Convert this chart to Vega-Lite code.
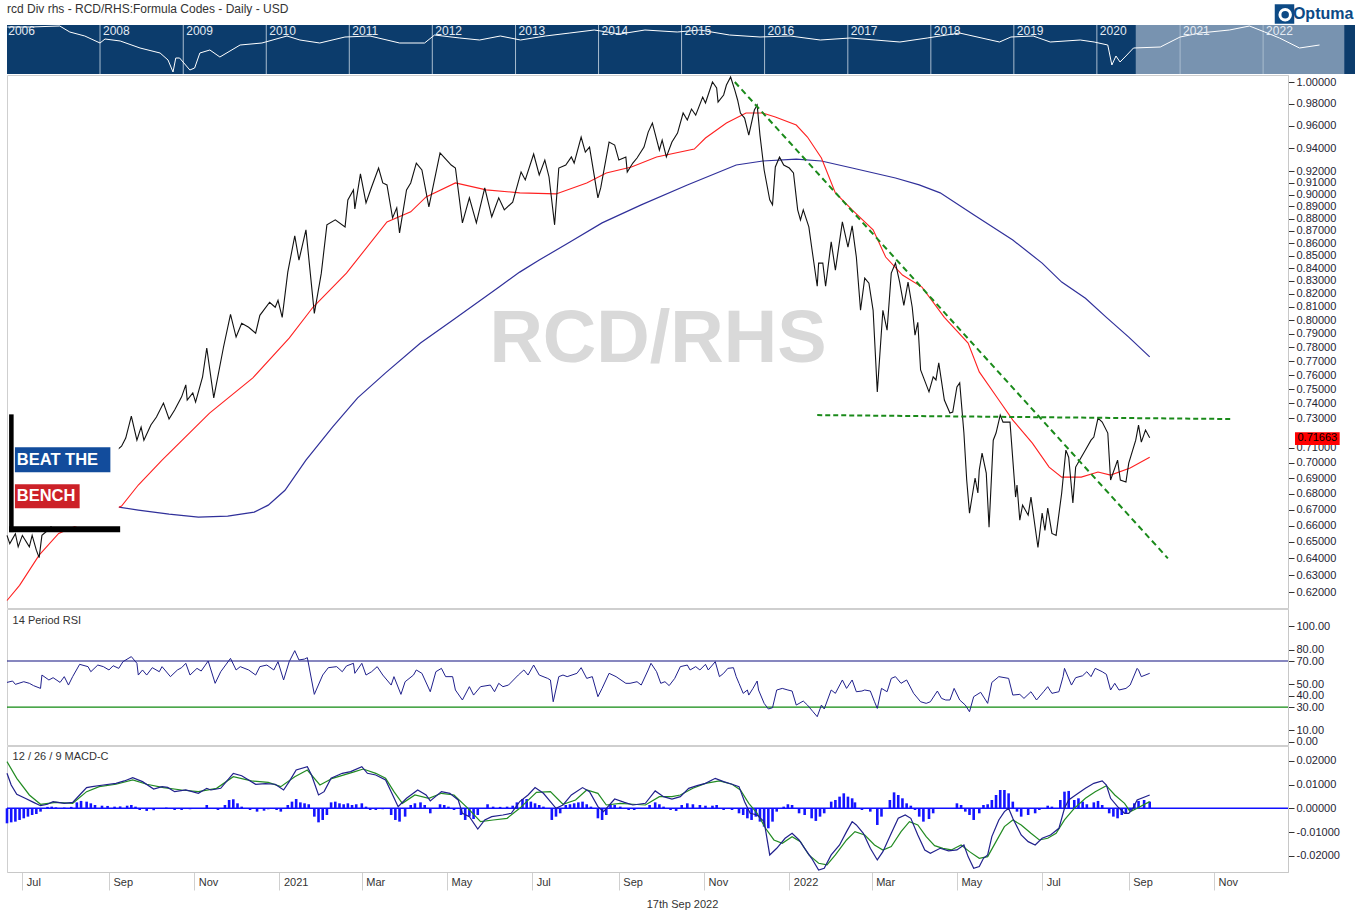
{
"$schema": "https://vega.github.io/schema/vega-lite/v6.json",
"background": "white",
"padding": {"left": 3, "top": 0, "right": 2, "bottom": 4},
"spacing": 1,
"bounds": "flush",
"config": {
  "font": "Liberation Sans",
  "view": {"stroke": "#cfcfcf"},
  "axis": {"labelFont": "Liberation Sans", "labelFontSize": 11, "labelColor": "#1f2533", "grid": false, "domainColor": "#c8c8c8", "tickColor": "#333333", "labelOverlap": false, "labelFlush": false}
},
"resolve": {"scale": {"x": "independent", "y": "independent"}},
"datasets": {
  "price": [
    {"date":"2020-06-20","v":0.654},{"date":"2020-06-22","v":0.649},{"date":"2020-06-26","v":0.655},{"date":"2020-06-28","v":0.647},{"date":"2020-07-01","v":0.654},{"date":"2020-07-06","v":0.647},{"date":"2020-07-08","v":0.654},{"date":"2020-07-11","v":0.645},{"date":"2020-07-13","v":0.6405},{"date":"2020-07-15","v":0.654},{"date":"2020-07-19","v":0.657},{"date":"2020-07-24","v":0.662},{"date":"2020-07-31","v":0.67},{"date":"2020-08-11","v":0.679},{"date":"2020-08-22","v":0.692},{"date":"2020-08-31","v":0.703},{"date":"2020-09-05","v":0.707},{"date":"2020-09-10","v":0.711},{"date":"2020-09-13","v":0.7164},{"date":"2020-09-17","v":0.7313},{"date":"2020-09-21","v":0.715},{"date":"2020-09-24","v":0.7238},{"date":"2020-09-26","v":0.715},{"date":"2020-10-01","v":0.7252},{"date":"2020-10-05","v":0.7307},{"date":"2020-10-10","v":0.7403},{"date":"2020-10-14","v":0.7293},{"date":"2020-10-18","v":0.7355},{"date":"2020-10-23","v":0.7446},{"date":"2020-10-26","v":0.753},{"date":"2020-10-27","v":0.7424},{"date":"2020-10-31","v":0.7474},{"date":"2020-11-02","v":0.741},{"date":"2020-11-07","v":0.7587},{"date":"2020-11-10","v":0.7795},{"date":"2020-11-15","v":0.7439},{"date":"2020-11-22","v":0.7802},{"date":"2020-11-27","v":0.8045},{"date":"2020-12-01","v":0.7875},{"date":"2020-12-05","v":0.7977},{"date":"2020-12-10","v":0.7948},{"date":"2020-12-15","v":0.7904},{"date":"2020-12-18","v":0.8037},{"date":"2020-12-25","v":0.8136},{"date":"2020-12-29","v":0.8098},{"date":"2020-12-31","v":0.8151},{"date":"2021-01-03","v":0.8022},{"date":"2021-01-07","v":0.8369},{"date":"2021-01-12","v":0.8658},{"date":"2021-01-15","v":0.8464},{"date":"2021-01-20","v":0.8707},{"date":"2021-01-26","v":0.8052},{"date":"2021-01-31","v":0.8361},{"date":"2021-02-04","v":0.8748},{"date":"2021-02-10","v":0.8789},{"date":"2021-02-17","v":0.8731},{"date":"2021-02-19","v":0.8955},{"date":"2021-02-23","v":0.9039},{"date":"2021-02-24","v":0.888},{"date":"2021-02-28","v":0.9175},{"date":"2021-03-04","v":0.893},{"date":"2021-03-08","v":0.9064},{"date":"2021-03-13","v":0.9226},{"date":"2021-03-16","v":0.9098},{"date":"2021-03-19","v":0.9081},{"date":"2021-03-23","v":0.8805},{"date":"2021-03-26","v":0.8888},{"date":"2021-03-28","v":0.8682},{"date":"2021-04-02","v":0.9039},{"date":"2021-04-05","v":0.9098},{"date":"2021-04-09","v":0.9269},{"date":"2021-04-13","v":0.9209},{"date":"2021-04-18","v":0.8897},{"date":"2021-04-26","v":0.9357},{"date":"2021-05-04","v":0.9252},{"date":"2021-05-07","v":0.9226},{"date":"2021-05-12","v":0.8764},{"date":"2021-05-17","v":0.8972},{"date":"2021-05-22","v":0.8764},{"date":"2021-05-28","v":0.9056},{"date":"2021-06-02","v":0.8814},{"date":"2021-06-07","v":0.8972},{"date":"2021-06-11","v":0.8872},{"date":"2021-06-17","v":0.8936},{"date":"2021-06-23","v":0.9192},{"date":"2021-06-26","v":0.9124},{"date":"2021-07-02","v":0.9348},{"date":"2021-07-06","v":0.9166},{"date":"2021-07-10","v":0.9295},{"date":"2021-07-13","v":0.9149},{"date":"2021-07-17","v":0.8748},{"date":"2021-07-20","v":0.9226},{"date":"2021-07-25","v":0.9252},{"date":"2021-07-29","v":0.9322},{"date":"2021-07-31","v":0.9269},{"date":"2021-08-05","v":0.9498},{"date":"2021-08-08","v":0.9365},{"date":"2021-08-11","v":0.9409},{"date":"2021-08-17","v":0.8972},{"date":"2021-08-19","v":0.9056},{"date":"2021-08-25","v":0.9453},{"date":"2021-08-29","v":0.9427},{"date":"2021-09-01","v":0.9295},{"date":"2021-09-06","v":0.9322},{"date":"2021-09-07","v":0.9192},{"date":"2021-09-11","v":0.9269},{"date":"2021-09-14","v":0.9313},{"date":"2021-09-19","v":0.9409},{"date":"2021-09-22","v":0.9542},{"date":"2021-09-25","v":0.9623},{"date":"2021-09-30","v":0.9383},{"date":"2021-10-02","v":0.9471},{"date":"2021-10-05","v":0.9322},{"date":"2021-10-09","v":0.9453},{"date":"2021-10-13","v":0.9533},{"date":"2021-10-17","v":0.9714},{"date":"2021-10-20","v":0.965},{"date":"2021-10-23","v":0.975},{"date":"2021-10-26","v":0.9695},{"date":"2021-10-31","v":0.986},{"date":"2021-11-02","v":0.9805},{"date":"2021-11-07","v":1.0},{"date":"2021-11-10","v":0.9944},{"date":"2021-11-11","v":0.9814},{"date":"2021-11-15","v":0.9879},{"date":"2021-11-17","v":0.9972},{"date":"2021-11-20","v":1.0047},{"date":"2021-11-23","v":0.9925},{"date":"2021-11-25","v":0.9833},{"date":"2021-11-27","v":0.9714},{"date":"2021-11-30","v":0.9668},{"date":"2021-12-03","v":0.9515},{"date":"2021-12-07","v":0.9741},{"date":"2021-12-09","v":0.9787},{"date":"2021-12-11","v":0.9515},{"date":"2021-12-14","v":0.9209},{"date":"2021-12-18","v":0.8955},{"date":"2021-12-20","v":0.8913},{"date":"2021-12-22","v":0.9235},{"date":"2021-12-25","v":0.9322},{"date":"2021-12-28","v":0.9252},{"date":"2022-01-01","v":0.9226},{"date":"2022-01-04","v":0.9183},{"date":"2022-01-07","v":0.8872},{"date":"2022-01-09","v":0.8789},{"date":"2022-01-11","v":0.8872},{"date":"2022-01-15","v":0.8731},{"date":"2022-01-17","v":0.8568},{"date":"2022-01-21","v":0.8259},{"date":"2022-01-22","v":0.844},{"date":"2022-01-25","v":0.844},{"date":"2022-01-27","v":0.8259},{"date":"2022-01-31","v":0.8609},{"date":"2022-02-03","v":0.8385},{"date":"2022-02-08","v":0.8772},{"date":"2022-02-12","v":0.8568},{"date":"2022-02-15","v":0.874},{"date":"2022-02-18","v":0.8488},{"date":"2022-02-21","v":0.8075},{"date":"2022-02-24","v":0.8322},{"date":"2022-02-27","v":0.8283},{"date":"2022-03-02","v":0.8075},{"date":"2022-03-05","v":0.7481},{"date":"2022-03-09","v":0.8075},{"date":"2022-03-12","v":0.7926},{"date":"2022-03-15","v":0.8361},{"date":"2022-03-18","v":0.844},{"date":"2022-03-21","v":0.8291},{"date":"2022-03-24","v":0.8113},{"date":"2022-03-27","v":0.8291},{"date":"2022-03-30","v":0.8098},{"date":"2022-04-01","v":0.7889},{"date":"2022-04-03","v":0.7985},{"date":"2022-04-05","v":0.7636},{"date":"2022-04-11","v":0.7481},{"date":"2022-04-14","v":0.7587},{"date":"2022-04-16","v":0.7565},{"date":"2022-04-18","v":0.7687},{"date":"2022-04-22","v":0.7424},{"date":"2022-04-26","v":0.7334},{"date":"2022-04-28","v":0.7341},{"date":"2022-05-01","v":0.7516},{"date":"2022-05-03","v":0.7544},{"date":"2022-05-06","v":0.7198},{"date":"2022-05-08","v":0.6888},{"date":"2022-05-10","v":0.6678},{"date":"2022-05-14","v":0.6901},{"date":"2022-05-16","v":0.6805},{"date":"2022-05-17","v":0.6953},{"date":"2022-05-19","v":0.7064},{"date":"2022-05-22","v":0.6933},{"date":"2022-05-24","v":0.659},{"date":"2022-05-27","v":0.715},{"date":"2022-05-29","v":0.7198},{"date":"2022-06-01","v":0.732},{"date":"2022-06-03","v":0.7272},{"date":"2022-06-08","v":0.7272},{"date":"2022-06-12","v":0.6779},{"date":"2022-06-13","v":0.6856},{"date":"2022-06-15","v":0.6634},{"date":"2022-06-17","v":0.6728},{"date":"2022-06-21","v":0.6665},{"date":"2022-06-23","v":0.6779},{"date":"2022-06-24","v":0.6716},{"date":"2022-06-28","v":0.6466},{"date":"2022-07-01","v":0.6678},{"date":"2022-07-03","v":0.6571},{"date":"2022-07-05","v":0.6709},{"date":"2022-07-08","v":0.6552},{"date":"2022-07-11","v":0.654},{"date":"2022-07-15","v":0.6805},{"date":"2022-07-18","v":0.7084},{"date":"2022-07-20","v":0.7037},{"date":"2022-07-23","v":0.6741},{"date":"2022-07-25","v":0.6972},{"date":"2022-07-29","v":0.7037},{"date":"2022-08-01","v":0.7084},{"date":"2022-08-05","v":0.715},{"date":"2022-08-07","v":0.7171},{"date":"2022-08-10","v":0.73},{"date":"2022-08-13","v":0.7272},{"date":"2022-08-17","v":0.7198},{"date":"2022-08-19","v":0.6888},{"date":"2022-08-24","v":0.7018},{"date":"2022-08-26","v":0.6888},{"date":"2022-08-30","v":0.6875},{"date":"2022-09-01","v":0.6998},{"date":"2022-09-06","v":0.715},{"date":"2022-09-08","v":0.7252},{"date":"2022-09-10","v":0.7137},{"date":"2022-09-13","v":0.7218},{"date":"2022-09-16","v":0.71663}
  ],
  "ma_red": [
    {"date":"2020-06-20","v":0.6153},{"date":"2020-06-29","v":0.6241},{"date":"2020-07-13","v":0.642},{"date":"2020-07-27","v":0.6552},{"date":"2020-09-10","v":0.6722},{"date":"2020-09-22","v":0.6856},{"date":"2020-10-09","v":0.7018},{"date":"2020-11-12","v":0.7334},{"date":"2020-12-13","v":0.758},{"date":"2021-01-08","v":0.7867},{"date":"2021-01-25","v":0.8098},{"date":"2021-02-18","v":0.8361},{"date":"2021-03-19","v":0.8772},{"date":"2021-04-05","v":0.8855},{"date":"2021-04-16","v":0.898},{"date":"2021-05-07","v":0.9098},{"date":"2021-05-29","v":0.9039},{"date":"2021-06-22","v":0.9014},{"date":"2021-07-18","v":0.9005},{"date":"2021-08-09","v":0.9098},{"date":"2021-08-23","v":0.9183},{"date":"2021-09-10","v":0.9235},{"date":"2021-09-28","v":0.9322},{"date":"2021-10-25","v":0.9391},{"date":"2021-11-02","v":0.9489},{"date":"2021-11-17","v":0.9623},{"date":"2021-12-01","v":0.9714},{"date":"2021-12-13","v":0.9714},{"date":"2021-12-22","v":0.9677},{"date":"2022-01-06","v":0.9605},{"date":"2022-01-14","v":0.9498},{"date":"2022-01-24","v":0.9313},{"date":"2022-02-03","v":0.9014},{"date":"2022-02-15","v":0.8872},{"date":"2022-03-02","v":0.8707},{"date":"2022-03-11","v":0.8488},{"date":"2022-03-23","v":0.8346},{"date":"2022-04-06","v":0.8252},{"date":"2022-04-22","v":0.8022},{"date":"2022-05-09","v":0.7831},{"date":"2022-05-17","v":0.7622},{"date":"2022-05-31","v":0.7424},{"date":"2022-06-10","v":0.7286},{"date":"2022-06-24","v":0.713},{"date":"2022-07-06","v":0.6972},{"date":"2022-07-15","v":0.6907},{"date":"2022-07-29","v":0.6907},{"date":"2022-08-10","v":0.694},{"date":"2022-08-19","v":0.692},{"date":"2022-09-02","v":0.6966},{"date":"2022-09-16","v":0.7037}
  ],
  "ma_blue": [
    {"date":"2020-09-08","v":0.6716},{"date":"2020-09-22","v":0.6697},{"date":"2020-10-14","v":0.6671},{"date":"2020-11-04","v":0.6653},{"date":"2020-11-25","v":0.6659},{"date":"2020-12-14","v":0.6684},{"date":"2020-12-24","v":0.6728},{"date":"2021-01-05","v":0.6822},{"date":"2021-01-20","v":0.7018},{"date":"2021-02-08","v":0.7238},{"date":"2021-02-26","v":0.7439},{"date":"2021-03-18","v":0.7615},{"date":"2021-04-12","v":0.7831},{"date":"2021-05-05","v":0.8},{"date":"2021-06-07","v":0.8252},{"date":"2021-06-22","v":0.8369},{"date":"2021-07-06","v":0.8464},{"date":"2021-07-28","v":0.8609},{"date":"2021-08-20","v":0.8764},{"date":"2021-09-17","v":0.8913},{"date":"2021-10-20","v":0.9081},{"date":"2021-11-24","v":0.9252},{"date":"2021-12-13","v":0.9287},{"date":"2022-01-06","v":0.9304},{"date":"2022-01-24","v":0.9287},{"date":"2022-02-15","v":0.9226},{"date":"2022-03-18","v":0.914},{"date":"2022-04-04","v":0.9081},{"date":"2022-04-19","v":0.9014},{"date":"2022-05-13","v":0.883},{"date":"2022-06-10","v":0.8624},{"date":"2022-07-01","v":0.844},{"date":"2022-07-15","v":0.8291},{"date":"2022-08-01","v":0.8167},{"date":"2022-08-16","v":0.8022},{"date":"2022-09-01","v":0.7875},{"date":"2022-09-16","v":0.773}
  ],
  "rsi": [
    {"date":"2020-06-20","v":51.4},{"date":"2020-06-24","v":52.6},{"date":"2020-06-26","v":49.7},{"date":"2020-07-02","v":52.0},{"date":"2020-07-06","v":50.6},{"date":"2020-07-09","v":48.6},{"date":"2020-07-14","v":46.2},{"date":"2020-07-15","v":57.8},{"date":"2020-07-20","v":53.5},{"date":"2020-07-23","v":55.5},{"date":"2020-07-28","v":51.4},{"date":"2020-07-31","v":56.4},{"date":"2020-08-03","v":49.1},{"date":"2020-08-06","v":56.4},{"date":"2020-08-11","v":67.1},{"date":"2020-08-17","v":65.1},{"date":"2020-08-19","v":60.7},{"date":"2020-08-24","v":66.5},{"date":"2020-08-28","v":65.1},{"date":"2020-09-01","v":62.2},{"date":"2020-09-04","v":65.9},{"date":"2020-09-08","v":63.6},{"date":"2020-09-11","v":69.4},{"date":"2020-09-17","v":73.8},{"date":"2020-09-21","v":68.0},{"date":"2020-09-22","v":57.8},{"date":"2020-09-25","v":62.2},{"date":"2020-09-28","v":57.8},{"date":"2020-10-02","v":64.2},{"date":"2020-10-07","v":60.7},{"date":"2020-10-09","v":65.1},{"date":"2020-10-15","v":56.4},{"date":"2020-10-20","v":62.2},{"date":"2020-10-23","v":64.2},{"date":"2020-10-26","v":68.0},{"date":"2020-10-29","v":57.8},{"date":"2020-11-03","v":63.6},{"date":"2020-11-06","v":61.3},{"date":"2020-11-09","v":66.5},{"date":"2020-11-11","v":70.0},{"date":"2020-11-16","v":50.6},{"date":"2020-11-20","v":60.7},{"date":"2020-11-27","v":72.3},{"date":"2020-12-01","v":62.2},{"date":"2020-12-04","v":65.1},{"date":"2020-12-10","v":62.2},{"date":"2020-12-15","v":57.8},{"date":"2020-12-18","v":65.1},{"date":"2020-12-23","v":66.5},{"date":"2020-12-28","v":62.2},{"date":"2020-12-31","v":69.4},{"date":"2021-01-04","v":53.5},{"date":"2021-01-08","v":69.4},{"date":"2021-01-12","v":79.0},{"date":"2021-01-15","v":70.9},{"date":"2021-01-19","v":71.7},{"date":"2021-01-21","v":72.9},{"date":"2021-01-22","v":66.5},{"date":"2021-01-26","v":41.0},{"date":"2021-02-01","v":57.8},{"date":"2021-02-05","v":64.2},{"date":"2021-02-11","v":65.1},{"date":"2021-02-15","v":60.7},{"date":"2021-02-18","v":65.7},{"date":"2021-02-23","v":68.0},{"date":"2021-02-24","v":59.3},{"date":"2021-03-01","v":68.0},{"date":"2021-03-04","v":57.8},{"date":"2021-03-08","v":60.7},{"date":"2021-03-12","v":65.1},{"date":"2021-03-16","v":57.8},{"date":"2021-03-22","v":49.1},{"date":"2021-03-24","v":56.4},{"date":"2021-03-29","v":41.0},{"date":"2021-04-01","v":52.0},{"date":"2021-04-07","v":57.8},{"date":"2021-04-09","v":62.2},{"date":"2021-04-13","v":59.3},{"date":"2021-04-19","v":43.3},{"date":"2021-04-23","v":60.7},{"date":"2021-04-27","v":63.6},{"date":"2021-04-30","v":56.4},{"date":"2021-05-05","v":56.4},{"date":"2021-05-07","v":44.8},{"date":"2021-05-12","v":36.1},{"date":"2021-05-17","v":47.7},{"date":"2021-05-20","v":40.4},{"date":"2021-05-25","v":47.7},{"date":"2021-06-01","v":49.1},{"date":"2021-06-04","v":43.3},{"date":"2021-06-07","v":50.6},{"date":"2021-06-10","v":47.7},{"date":"2021-06-14","v":49.1},{"date":"2021-06-21","v":57.8},{"date":"2021-06-25","v":62.2},{"date":"2021-06-28","v":57.8},{"date":"2021-07-02","v":66.5},{"date":"2021-07-06","v":57.8},{"date":"2021-07-12","v":54.9},{"date":"2021-07-14","v":53.5},{"date":"2021-07-16","v":34.6},{"date":"2021-07-20","v":56.4},{"date":"2021-07-23","v":57.8},{"date":"2021-07-26","v":56.4},{"date":"2021-08-02","v":59.3},{"date":"2021-08-05","v":64.2},{"date":"2021-08-09","v":54.9},{"date":"2021-08-13","v":56.4},{"date":"2021-08-17","v":39.0},{"date":"2021-08-20","v":46.2},{"date":"2021-08-25","v":59.3},{"date":"2021-08-30","v":56.4},{"date":"2021-09-06","v":50.6},{"date":"2021-09-09","v":50.6},{"date":"2021-09-14","v":52.0},{"date":"2021-09-17","v":49.1},{"date":"2021-09-22","v":62.2},{"date":"2021-09-24","v":68.0},{"date":"2021-09-28","v":60.7},{"date":"2021-10-01","v":50.6},{"date":"2021-10-04","v":52.0},{"date":"2021-10-07","v":48.6},{"date":"2021-10-11","v":54.9},{"date":"2021-10-15","v":65.1},{"date":"2021-10-20","v":66.5},{"date":"2021-10-22","v":62.2},{"date":"2021-10-26","v":65.1},{"date":"2021-10-29","v":62.2},{"date":"2021-11-02","v":67.1},{"date":"2021-11-04","v":62.2},{"date":"2021-11-09","v":69.4},{"date":"2021-11-12","v":56.4},{"date":"2021-11-15","v":59.3},{"date":"2021-11-18","v":63.6},{"date":"2021-11-22","v":64.2},{"date":"2021-11-24","v":56.4},{"date":"2021-11-26","v":50.6},{"date":"2021-11-29","v":41.9},{"date":"2021-12-02","v":44.8},{"date":"2021-12-03","v":40.4},{"date":"2021-12-06","v":46.2},{"date":"2021-12-09","v":52.6},{"date":"2021-12-10","v":44.8},{"date":"2021-12-14","v":33.2},{"date":"2021-12-17","v":28.3},{"date":"2021-12-20","v":29.4},{"date":"2021-12-23","v":44.8},{"date":"2021-12-27","v":46.2},{"date":"2021-12-31","v":44.8},{"date":"2022-01-03","v":43.9},{"date":"2022-01-06","v":31.7},{"date":"2022-01-11","v":35.2},{"date":"2022-01-14","v":31.7},{"date":"2022-01-18","v":25.9},{"date":"2022-01-21","v":21.6},{"date":"2022-01-24","v":31.7},{"date":"2022-01-26","v":28.3},{"date":"2022-01-31","v":44.8},{"date":"2022-02-03","v":41.9},{"date":"2022-02-08","v":53.5},{"date":"2022-02-11","v":46.2},{"date":"2022-02-15","v":53.5},{"date":"2022-02-18","v":43.3},{"date":"2022-02-22","v":43.9},{"date":"2022-02-24","v":44.8},{"date":"2022-02-28","v":43.9},{"date":"2022-03-03","v":34.6},{"date":"2022-03-05","v":28.8},{"date":"2022-03-08","v":46.2},{"date":"2022-03-12","v":43.3},{"date":"2022-03-15","v":54.9},{"date":"2022-03-18","v":56.4},{"date":"2022-03-22","v":50.6},{"date":"2022-03-26","v":53.5},{"date":"2022-03-31","v":41.9},{"date":"2022-04-05","v":34.6},{"date":"2022-04-09","v":33.2},{"date":"2022-04-12","v":34.6},{"date":"2022-04-17","v":43.9},{"date":"2022-04-20","v":37.5},{"date":"2022-04-23","v":36.1},{"date":"2022-04-26","v":36.1},{"date":"2022-04-29","v":46.2},{"date":"2022-05-03","v":36.1},{"date":"2022-05-07","v":31.7},{"date":"2022-05-10","v":25.9},{"date":"2022-05-13","v":39.0},{"date":"2022-05-18","v":42.8},{"date":"2022-05-23","v":33.2},{"date":"2022-05-26","v":51.4},{"date":"2022-05-31","v":56.4},{"date":"2022-06-07","v":54.9},{"date":"2022-06-10","v":40.4},{"date":"2022-06-15","v":41.0},{"date":"2022-06-18","v":37.5},{"date":"2022-06-23","v":43.3},{"date":"2022-06-27","v":36.1},{"date":"2022-07-02","v":43.3},{"date":"2022-07-05","v":47.7},{"date":"2022-07-08","v":41.9},{"date":"2022-07-13","v":43.3},{"date":"2022-07-16","v":56.4},{"date":"2022-07-17","v":63.6},{"date":"2022-07-22","v":49.1},{"date":"2022-07-25","v":55.5},{"date":"2022-07-30","v":57.2},{"date":"2022-08-02","v":60.7},{"date":"2022-08-05","v":56.4},{"date":"2022-08-08","v":63.6},{"date":"2022-08-13","v":60.7},{"date":"2022-08-16","v":58.4},{"date":"2022-08-19","v":44.8},{"date":"2022-08-22","v":50.6},{"date":"2022-08-25","v":44.8},{"date":"2022-08-30","v":46.2},{"date":"2022-09-02","v":49.1},{"date":"2022-09-07","v":63.6},{"date":"2022-09-08","v":62.2},{"date":"2022-09-10","v":56.4},{"date":"2022-09-16","v":59.3}
  ],
  "macd": [
    {"date":"2020-06-20","v":0.0147},{"date":"2020-06-23","v":0.0098},{"date":"2020-06-27","v":0.0059},{"date":"2020-07-03","v":0.0042},{"date":"2020-07-09","v":0.0025},{"date":"2020-07-14","v":0.0011},{"date":"2020-07-19","v":0.0017},{"date":"2020-07-23","v":0.0028},{"date":"2020-07-31","v":0.0021},{"date":"2020-08-06","v":0.0025},{"date":"2020-08-11","v":0.0056},{"date":"2020-08-16","v":0.0087},{"date":"2020-08-20","v":0.0091},{"date":"2020-08-28","v":0.0098},{"date":"2020-09-06","v":0.0105},{"date":"2020-09-12","v":0.0115},{"date":"2020-09-18","v":0.0129},{"date":"2020-09-25","v":0.0112},{"date":"2020-10-03","v":0.0081},{"date":"2020-10-09","v":0.0091},{"date":"2020-10-13","v":0.0088},{"date":"2020-10-18","v":0.007},{"date":"2020-10-26","v":0.0077},{"date":"2020-11-04","v":0.0063},{"date":"2020-11-10","v":0.0084},{"date":"2020-11-13","v":0.0077},{"date":"2020-11-20","v":0.0084},{"date":"2020-11-24","v":0.0112},{"date":"2020-11-29","v":0.0147},{"date":"2020-12-05","v":0.0137},{"date":"2020-12-15","v":0.0101},{"date":"2020-12-22","v":0.0104},{"date":"2020-12-29","v":0.0101},{"date":"2021-01-04","v":0.0077},{"date":"2021-01-08","v":0.0112},{"date":"2021-01-13","v":0.0161},{"date":"2021-01-21","v":0.0175},{"date":"2021-01-24","v":0.014},{"date":"2021-01-29","v":0.0056},{"date":"2021-02-02","v":0.007},{"date":"2021-02-07","v":0.0126},{"date":"2021-02-15","v":0.0147},{"date":"2021-02-21","v":0.0154},{"date":"2021-03-01","v":0.0175},{"date":"2021-03-05","v":0.0147},{"date":"2021-03-11","v":0.014},{"date":"2021-03-18","v":0.0119},{"date":"2021-03-22","v":0.007},{"date":"2021-03-27","v":0.0007},{"date":"2021-04-02","v":0.0042},{"date":"2021-04-10","v":0.0077},{"date":"2021-04-16","v":0.0056},{"date":"2021-04-19","v":0.0031},{"date":"2021-04-27","v":0.007},{"date":"2021-05-03","v":0.0063},{"date":"2021-05-09","v":0.0035},{"date":"2021-05-12","v":-0.0021},{"date":"2021-05-17","v":-0.0035},{"date":"2021-05-23","v":-0.0087},{"date":"2021-05-28","v":-0.0049},{"date":"2021-06-02","v":-0.0035},{"date":"2021-06-10","v":-0.0028},{"date":"2021-06-16","v":-0.0021},{"date":"2021-06-22","v":0.0028},{"date":"2021-06-28","v":0.0056},{"date":"2021-07-03","v":0.0087},{"date":"2021-07-09","v":0.0063},{"date":"2021-07-14","v":0.0028},{"date":"2021-07-18","v":0.0},{"date":"2021-07-23","v":0.0014},{"date":"2021-07-29","v":0.0056},{"date":"2021-08-06","v":0.0087},{"date":"2021-08-11","v":0.007},{"date":"2021-08-17","v":0.0007},{"date":"2021-08-21","v":-0.0014},{"date":"2021-08-29","v":0.0039},{"date":"2021-09-05","v":0.0025},{"date":"2021-09-11","v":0.0014},{"date":"2021-09-20","v":0.0021},{"date":"2021-09-27","v":0.0073},{"date":"2021-10-03","v":0.0049},{"date":"2021-10-09","v":0.0039},{"date":"2021-10-15","v":0.0049},{"date":"2021-10-21","v":0.0084},{"date":"2021-10-27","v":0.0095},{"date":"2021-11-02","v":0.0105},{"date":"2021-11-09","v":0.0126},{"date":"2021-11-15","v":0.0112},{"date":"2021-11-21","v":0.0101},{"date":"2021-11-26","v":0.0091},{"date":"2021-11-30","v":0.0028},{"date":"2021-12-04","v":-0.0021},{"date":"2021-12-09","v":-0.0028},{"date":"2021-12-14","v":-0.0056},{"date":"2021-12-18","v":-0.0196},{"date":"2021-12-23","v":-0.0168},{"date":"2021-12-29","v":-0.0126},{"date":"2022-01-03","v":-0.0105},{"date":"2022-01-08","v":-0.0133},{"date":"2022-01-12","v":-0.0168},{"date":"2022-01-17","v":-0.021},{"date":"2022-01-22","v":-0.0259},{"date":"2022-01-26","v":-0.0252},{"date":"2022-01-31","v":-0.0196},{"date":"2022-02-06","v":-0.0154},{"date":"2022-02-11","v":-0.0098},{"date":"2022-02-15","v":-0.0056},{"date":"2022-02-18","v":-0.007},{"date":"2022-02-23","v":-0.0105},{"date":"2022-02-28","v":-0.0168},{"date":"2022-03-05","v":-0.0217},{"date":"2022-03-09","v":-0.0182},{"date":"2022-03-15","v":-0.0105},{"date":"2022-03-20","v":-0.0042},{"date":"2022-03-25","v":-0.0028},{"date":"2022-03-29","v":-0.0042},{"date":"2022-04-03","v":-0.0112},{"date":"2022-04-08","v":-0.0175},{"date":"2022-04-12","v":-0.0189},{"date":"2022-04-19","v":-0.0168},{"date":"2022-04-25","v":-0.0179},{"date":"2022-05-01","v":-0.0175},{"date":"2022-05-06","v":-0.0154},{"date":"2022-05-09","v":-0.0203},{"date":"2022-05-13","v":-0.0252},{"date":"2022-05-17","v":-0.0245},{"date":"2022-05-20","v":-0.021},{"date":"2022-05-23","v":-0.0196},{"date":"2022-05-26","v":-0.0119},{"date":"2022-05-31","v":-0.0049},{"date":"2022-06-04","v":-0.0014},{"date":"2022-06-07","v":0.0},{"date":"2022-06-10","v":-0.0042},{"date":"2022-06-16","v":-0.0112},{"date":"2022-06-21","v":-0.014},{"date":"2022-06-26","v":-0.0154},{"date":"2022-07-01","v":-0.0126},{"date":"2022-07-07","v":-0.0112},{"date":"2022-07-13","v":-0.0084},{"date":"2022-07-17","v":0.0},{"date":"2022-07-20","v":0.0035},{"date":"2022-07-25","v":0.0056},{"date":"2022-08-01","v":0.0084},{"date":"2022-08-07","v":0.0105},{"date":"2022-08-13","v":0.0115},{"date":"2022-08-16","v":0.0098},{"date":"2022-08-19","v":0.0042},{"date":"2022-08-24","v":0.0007},{"date":"2022-08-29","v":-0.0021},{"date":"2022-09-01","v":-0.0021},{"date":"2022-09-04","v":0.0},{"date":"2022-09-07","v":0.0035},{"date":"2022-09-16","v":0.0056}
  ],
  "signal": [
    {"date":"2020-06-20","v":0.0196},{"date":"2020-06-27","v":0.0126},{"date":"2020-07-06","v":0.0056},{"date":"2020-07-14","v":0.0017},{"date":"2020-07-25","v":0.0025},{"date":"2020-08-06","v":0.0021},{"date":"2020-08-16","v":0.007},{"date":"2020-08-25","v":0.0091},{"date":"2020-09-06","v":0.0101},{"date":"2020-09-18","v":0.0119},{"date":"2020-09-28","v":0.0101},{"date":"2020-10-10","v":0.0087},{"date":"2020-10-23","v":0.0077},{"date":"2020-11-04","v":0.007},{"date":"2020-11-17","v":0.0084},{"date":"2020-11-29","v":0.0133},{"date":"2020-12-12","v":0.0115},{"date":"2020-12-24","v":0.0109},{"date":"2021-01-02","v":0.0091},{"date":"2021-01-12","v":0.0133},{"date":"2021-01-21","v":0.0161},{"date":"2021-01-30","v":0.0098},{"date":"2021-02-08","v":0.0126},{"date":"2021-02-24","v":0.0154},{"date":"2021-03-02","v":0.0165},{"date":"2021-03-11","v":0.0147},{"date":"2021-03-18","v":0.0126},{"date":"2021-03-24","v":0.007},{"date":"2021-03-30","v":0.0021},{"date":"2021-04-08","v":0.0056},{"date":"2021-04-18","v":0.0042},{"date":"2021-04-27","v":0.0063},{"date":"2021-05-06","v":0.0056},{"date":"2021-05-16","v":0.0},{"date":"2021-05-25","v":-0.0056},{"date":"2021-06-03","v":-0.0049},{"date":"2021-06-13","v":-0.0042},{"date":"2021-06-22","v":0.0},{"date":"2021-07-04","v":0.0067},{"date":"2021-07-14","v":0.007},{"date":"2021-07-23","v":0.0017},{"date":"2021-08-01","v":0.0035},{"date":"2021-08-09","v":0.0077},{"date":"2021-08-17","v":0.0063},{"date":"2021-08-23","v":0.0014},{"date":"2021-09-02","v":0.0021},{"date":"2021-09-11","v":0.0017},{"date":"2021-09-20","v":0.0014},{"date":"2021-09-30","v":0.0049},{"date":"2021-10-09","v":0.0049},{"date":"2021-10-15","v":0.0056},{"date":"2021-10-24","v":0.0084},{"date":"2021-11-02","v":0.0105},{"date":"2021-11-12","v":0.0115},{"date":"2021-11-21","v":0.0101},{"date":"2021-11-27","v":0.0077},{"date":"2021-12-03","v":0.0021},{"date":"2021-12-09","v":-0.0021},{"date":"2021-12-15","v":-0.0084},{"date":"2021-12-21","v":-0.0133},{"date":"2021-12-27","v":-0.0147},{"date":"2022-01-03","v":-0.0119},{"date":"2022-01-09","v":-0.014},{"date":"2022-01-15","v":-0.0196},{"date":"2022-01-22","v":-0.0231},{"date":"2022-01-28","v":-0.0238},{"date":"2022-02-03","v":-0.0196},{"date":"2022-02-11","v":-0.0133},{"date":"2022-02-17","v":-0.0098},{"date":"2022-02-24","v":-0.0112},{"date":"2022-03-03","v":-0.0154},{"date":"2022-03-09","v":-0.0175},{"date":"2022-03-15","v":-0.0161},{"date":"2022-03-22","v":-0.0098},{"date":"2022-03-28","v":-0.0056},{"date":"2022-04-03","v":-0.007},{"date":"2022-04-09","v":-0.0119},{"date":"2022-04-15","v":-0.0157},{"date":"2022-04-21","v":-0.0168},{"date":"2022-04-27","v":-0.0175},{"date":"2022-05-04","v":-0.0154},{"date":"2022-05-10","v":-0.0182},{"date":"2022-05-17","v":-0.021},{"date":"2022-05-23","v":-0.0203},{"date":"2022-05-29","v":-0.014},{"date":"2022-06-04","v":-0.0077},{"date":"2022-06-10","v":-0.0049},{"date":"2022-06-16","v":-0.007},{"date":"2022-06-23","v":-0.0105},{"date":"2022-06-29","v":-0.0133},{"date":"2022-07-05","v":-0.0126},{"date":"2022-07-11","v":-0.0105},{"date":"2022-07-17","v":-0.0049},{"date":"2022-07-24","v":0.0},{"date":"2022-08-01","v":0.0042},{"date":"2022-08-08","v":0.007},{"date":"2022-08-16","v":0.0095},{"date":"2022-08-22","v":0.0056},{"date":"2022-08-29","v":0.0021},{"date":"2022-09-02","v":-0.0014},{"date":"2022-09-07","v":0.0},{"date":"2022-09-16","v":0.0028}
  ],
  "hist": [
    {"date":"2020-06-20","v":-0.0063},{"date":"2020-06-23","v":-0.0059},{"date":"2020-06-26","v":-0.0056},{"date":"2020-06-29","v":-0.0049},{"date":"2020-07-02","v":-0.0042},{"date":"2020-07-05","v":-0.0035},{"date":"2020-07-08","v":-0.0028},{"date":"2020-07-11","v":-0.0024},{"date":"2020-07-14","v":-0.0014},{"date":"2020-07-19","v":0.0006},{"date":"2020-07-22","v":0.0007},{"date":"2020-07-25","v":0.0004},{"date":"2020-07-31","v":0.0003},{"date":"2020-08-05","v":0.0006},{"date":"2020-08-09","v":0.0025},{"date":"2020-08-12","v":0.0031},{"date":"2020-08-16","v":0.0028},{"date":"2020-08-19","v":0.0021},{"date":"2020-08-22","v":0.0014},{"date":"2020-08-27","v":0.0011},{"date":"2020-08-31","v":0.001},{"date":"2020-09-05","v":0.0007},{"date":"2020-09-09","v":0.0008},{"date":"2020-09-14","v":0.0011},{"date":"2020-09-17","v":0.0014},{"date":"2020-09-20","v":0.0007},{"date":"2020-09-23","v":-0.0007},{"date":"2020-09-28","v":-0.0011},{"date":"2020-10-03","v":-0.0008},{"date":"2020-10-12","v":0.0003},{"date":"2020-10-18","v":-0.0007},{"date":"2020-10-23","v":-0.0007},{"date":"2020-10-29","v":-0.0004},{"date":"2020-11-10","v":0.0014},{"date":"2020-11-18","v":-0.0007},{"date":"2020-11-23","v":0.0014},{"date":"2020-11-26","v":0.0035},{"date":"2020-11-29","v":0.0038},{"date":"2020-12-02","v":0.0021},{"date":"2020-12-05","v":0.0007},{"date":"2020-12-11","v":-0.0007},{"date":"2020-12-16","v":-0.0014},{"date":"2020-12-21","v":-0.001},{"date":"2020-12-24","v":-0.0004},{"date":"2020-12-30","v":-0.0007},{"date":"2021-01-02","v":-0.0014},{"date":"2021-01-07","v":0.0014},{"date":"2021-01-10","v":0.0028},{"date":"2021-01-13","v":0.0039},{"date":"2021-01-16","v":0.0025},{"date":"2021-01-19","v":0.0021},{"date":"2021-01-22","v":0.0017},{"date":"2021-01-26","v":-0.0035},{"date":"2021-01-29","v":-0.0059},{"date":"2021-02-01","v":-0.0049},{"date":"2021-02-04","v":-0.0028},{"date":"2021-02-07","v":0.0025},{"date":"2021-02-10","v":0.0028},{"date":"2021-02-13","v":0.0021},{"date":"2021-02-16","v":0.0017},{"date":"2021-02-19","v":0.0021},{"date":"2021-02-22","v":0.0014},{"date":"2021-02-25","v":0.0017},{"date":"2021-03-01","v":0.0021},{"date":"2021-03-04","v":0.0007},{"date":"2021-03-07","v":-0.0007},{"date":"2021-03-11","v":-0.0007},{"date":"2021-03-16","v":-0.0004},{"date":"2021-03-22","v":-0.0028},{"date":"2021-03-25","v":-0.0049},{"date":"2021-03-28","v":-0.0056},{"date":"2021-04-01","v":-0.0035},{"date":"2021-04-05","v":0.0014},{"date":"2021-04-08","v":0.0021},{"date":"2021-04-12","v":0.0025},{"date":"2021-04-15","v":0.0014},{"date":"2021-04-19","v":-0.0021},{"date":"2021-04-26","v":0.0017},{"date":"2021-04-29","v":0.0014},{"date":"2021-05-02","v":0.0007},{"date":"2021-05-06","v":-0.0007},{"date":"2021-05-11","v":-0.0028},{"date":"2021-05-14","v":-0.0049},{"date":"2021-05-17","v":-0.0035},{"date":"2021-05-20","v":-0.0045},{"date":"2021-05-23","v":-0.0028},{"date":"2021-05-30","v":0.0017},{"date":"2021-06-03","v":0.0007},{"date":"2021-06-08","v":0.0006},{"date":"2021-06-13","v":0.0007},{"date":"2021-06-17","v":0.0011},{"date":"2021-06-20","v":0.0025},{"date":"2021-06-24","v":0.0039},{"date":"2021-06-27","v":0.0039},{"date":"2021-06-30","v":0.0028},{"date":"2021-07-03","v":0.0021},{"date":"2021-07-06","v":0.0014},{"date":"2021-07-09","v":0.0007},{"date":"2021-07-15","v":-0.0049},{"date":"2021-07-18","v":-0.0035},{"date":"2021-07-21","v":-0.0021},{"date":"2021-07-25","v":0.0014},{"date":"2021-07-28","v":0.0017},{"date":"2021-07-31","v":0.0021},{"date":"2021-08-03","v":0.0025},{"date":"2021-08-06","v":0.0028},{"date":"2021-08-09","v":0.0017},{"date":"2021-08-12","v":0.0007},{"date":"2021-08-17","v":-0.0042},{"date":"2021-08-20","v":-0.0049},{"date":"2021-08-23","v":-0.0028},{"date":"2021-08-26","v":0.0017},{"date":"2021-08-29","v":0.0014},{"date":"2021-09-02","v":0.0007},{"date":"2021-09-08","v":-0.0007},{"date":"2021-09-12","v":-0.0007},{"date":"2021-09-17","v":-0.0003},{"date":"2021-09-23","v":0.0014},{"date":"2021-09-27","v":0.0025},{"date":"2021-09-30","v":0.0017},{"date":"2021-10-03","v":0.0007},{"date":"2021-10-08","v":-0.0007},{"date":"2021-10-12","v":-0.0011},{"date":"2021-10-16","v":0.0014},{"date":"2021-10-20","v":0.0021},{"date":"2021-10-24","v":0.0017},{"date":"2021-10-29","v":0.0014},{"date":"2021-11-02","v":0.0011},{"date":"2021-11-07","v":0.0011},{"date":"2021-11-10","v":0.0014},{"date":"2021-11-15","v":-0.0007},{"date":"2021-11-21","v":-0.0007},{"date":"2021-11-26","v":-0.0021},{"date":"2021-11-29","v":-0.0028},{"date":"2021-12-02","v":-0.0042},{"date":"2021-12-05","v":-0.0049},{"date":"2021-12-08","v":-0.0035},{"date":"2021-12-11","v":-0.0056},{"date":"2021-12-14","v":-0.0077},{"date":"2021-12-17","v":-0.0084},{"date":"2021-12-20","v":-0.0056},{"date":"2021-12-23","v":-0.0014},{"date":"2021-12-28","v":0.0007},{"date":"2021-12-31","v":0.0017},{"date":"2022-01-03","v":0.0014},{"date":"2022-01-08","v":-0.0021},{"date":"2022-01-12","v":-0.0028},{"date":"2022-01-17","v":-0.0042},{"date":"2022-01-20","v":-0.0053},{"date":"2022-01-23","v":-0.0035},{"date":"2022-01-26","v":-0.0021},{"date":"2022-01-31","v":0.0028},{"date":"2022-02-03","v":0.0035},{"date":"2022-02-06","v":0.0049},{"date":"2022-02-09","v":0.0063},{"date":"2022-02-12","v":0.0049},{"date":"2022-02-15","v":0.0042},{"date":"2022-02-17","v":0.0025},{"date":"2022-02-22","v":-0.0007},{"date":"2022-02-28","v":-0.0014},{"date":"2022-03-05","v":-0.007},{"date":"2022-03-08","v":-0.0035},{"date":"2022-03-14","v":0.0035},{"date":"2022-03-17","v":0.0067},{"date":"2022-03-20","v":0.0056},{"date":"2022-03-23","v":0.0042},{"date":"2022-03-26","v":0.0021},{"date":"2022-03-29","v":0.0011},{"date":"2022-04-01","v":-0.0007},{"date":"2022-04-04","v":-0.0035},{"date":"2022-04-07","v":-0.0056},{"date":"2022-04-11","v":-0.0045},{"date":"2022-04-14","v":-0.0021},{"date":"2022-04-26","v":-0.0003},{"date":"2022-05-01","v":0.0021},{"date":"2022-05-04","v":0.0014},{"date":"2022-05-07","v":-0.0014},{"date":"2022-05-10","v":-0.0028},{"date":"2022-05-13","v":-0.0049},{"date":"2022-05-17","v":-0.0021},{"date":"2022-05-20","v":0.0014},{"date":"2022-05-23","v":0.0017},{"date":"2022-05-26","v":0.0035},{"date":"2022-05-29","v":0.0056},{"date":"2022-06-01","v":0.0077},{"date":"2022-06-04","v":0.0077},{"date":"2022-06-07","v":0.0063},{"date":"2022-06-10","v":0.0028},{"date":"2022-06-13","v":-0.0014},{"date":"2022-06-16","v":-0.0035},{"date":"2022-06-21","v":-0.0028},{"date":"2022-06-26","v":-0.0021},{"date":"2022-06-29","v":-0.0007},{"date":"2022-07-05","v":0.0011},{"date":"2022-07-08","v":0.0007},{"date":"2022-07-14","v":0.0035},{"date":"2022-07-17","v":0.007},{"date":"2022-07-20","v":0.0073},{"date":"2022-07-24","v":0.0035},{"date":"2022-07-27","v":0.0042},{"date":"2022-07-30","v":0.0028},{"date":"2022-08-02","v":0.0017},{"date":"2022-08-07","v":0.0025},{"date":"2022-08-10","v":0.0031},{"date":"2022-08-13","v":0.0014},{"date":"2022-08-18","v":-0.0021},{"date":"2022-08-21","v":-0.0035},{"date":"2022-08-24","v":-0.0042},{"date":"2022-08-27","v":-0.0028},{"date":"2022-08-30","v":-0.0021},{"date":"2022-09-02","v":-0.0007},{"date":"2022-09-05","v":0.0021},{"date":"2022-09-08","v":0.0031},{"date":"2022-09-12","v":0.0035},{"date":"2022-09-16","v":0.0028}
  ],
  "nav": [
    {"date":"2006-11-20","v":0.985},{"date":"2007-02-27","v":0.985},{"date":"2007-07-08","v":1.0},{"date":"2007-08-21","v":0.91},{"date":"2007-10-26","v":0.85},{"date":"2008-01-01","v":0.745},{"date":"2008-01-23","v":0.805},{"date":"2008-03-30","v":0.775},{"date":"2008-06-25","v":0.67},{"date":"2008-09-21","v":0.595},{"date":"2008-10-26","v":0.49},{"date":"2008-11-17","v":0.31},{"date":"2008-11-29","v":0.52},{"date":"2008-12-16","v":0.52},{"date":"2009-01-30","v":0.34},{"date":"2009-02-20","v":0.37},{"date":"2009-03-15","v":0.595},{"date":"2009-04-28","v":0.64},{"date":"2009-06-11","v":0.535},{"date":"2009-09-08","v":0.715},{"date":"2009-12-13","v":0.745},{"date":"2010-04-02","v":0.85},{"date":"2010-05-29","v":0.79},{"date":"2010-08-24","v":0.745},{"date":"2010-12-13","v":0.835},{"date":"2011-04-02","v":0.85},{"date":"2011-08-10","v":0.745},{"date":"2011-11-28","v":0.745},{"date":"2012-01-11","v":0.865},{"date":"2012-05-01","v":0.82},{"date":"2012-07-27","v":0.79},{"date":"2012-10-26","v":0.85},{"date":"2013-01-23","v":0.79},{"date":"2013-05-12","v":0.85},{"date":"2013-08-28","v":0.895},{"date":"2013-12-13","v":0.94},{"date":"2014-04-05","v":0.88},{"date":"2014-07-24","v":0.94},{"date":"2014-12-13","v":0.91},{"date":"2015-03-22","v":0.94},{"date":"2015-07-31","v":0.865},{"date":"2015-12-12","v":0.835},{"date":"2016-04-22","v":0.85},{"date":"2016-09-02","v":0.79},{"date":"2017-01-11","v":0.82},{"date":"2017-05-01","v":0.79},{"date":"2017-08-18","v":0.76},{"date":"2017-12-16","v":0.82},{"date":"2018-05-07","v":0.895},{"date":"2018-10-30","v":0.76},{"date":"2018-12-19","v":0.835},{"date":"2019-03-27","v":0.85},{"date":"2019-06-10","v":0.76},{"date":"2019-10-20","v":0.79},{"date":"2019-12-20","v":0.76},{"date":"2020-02-18","v":0.715},{"date":"2020-03-07","v":0.415},{"date":"2020-03-25","v":0.55},{"date":"2020-04-12","v":0.46},{"date":"2020-05-12","v":0.565},{"date":"2020-06-10","v":0.67},{"date":"2020-10-06","v":0.685},{"date":"2021-01-01","v":0.835},{"date":"2021-03-29","v":0.895},{"date":"2021-08-06","v":0.94},{"date":"2021-11-02","v":1.0},{"date":"2022-01-08","v":0.91},{"date":"2022-03-14","v":0.82},{"date":"2022-06-10","v":0.67},{"date":"2022-09-06","v":0.715}
  ],
  "navgrid": [
    {"date":"2008-01-01","v":1.015,"v2":0.28,"label":"2008"},{"date":"2009-01-01","v":1.015,"v2":0.28,"label":"2009"},{"date":"2010-01-01","v":1.015,"v2":0.28,"label":"2010"},{"date":"2011-01-01","v":1.015,"v2":0.28,"label":"2011"},{"date":"2012-01-01","v":1.015,"v2":0.28,"label":"2012"},{"date":"2013-01-01","v":1.015,"v2":0.28,"label":"2013"},{"date":"2014-01-01","v":1.015,"v2":0.28,"label":"2014"},{"date":"2015-01-01","v":1.015,"v2":0.28,"label":"2015"},{"date":"2016-01-01","v":1.015,"v2":0.28,"label":"2016"},{"date":"2017-01-01","v":1.015,"v2":0.28,"label":"2017"},{"date":"2018-01-01","v":1.015,"v2":0.28,"label":"2018"},{"date":"2019-01-01","v":1.015,"v2":0.28,"label":"2019"},{"date":"2020-01-01","v":1.015,"v2":0.28,"label":"2020"},{"date":"2021-01-01","v":1.015,"v2":0.28,"label":"2021"},{"date":"2022-01-01","v":1.015,"v2":0.28,"label":"2022"}
  ]
},
"vconcat": [
  {
    "width": 1348, "height": 74,
    "view": {"stroke": null},
    "encoding": {
      "x": {"field": "date", "type": "temporal", "scale": {"domain": [{"year":2006,"month":11,"date":18},{"year":2023,"month":2,"date":9}]}, "axis": null},
      "y": {"field": "v", "type": "quantitative", "scale": {"domain": [0.28, 1.39], "nice": false, "zero": false}, "axis": null}
    },
    "layer": [
      {"data": {"values": [{"date":"2006-11-18","date2":"2023-02-09","v":1.015,"v2":0.28}]}, "mark": {"type": "rect", "color": "#0c3c6c"}, "encoding": {"x2": {"field": "date2"}, "y2": {"field": "v2"}}},
      {"data": {"values": [{"date":"2020-06-20","date2":"2022-12-24","v":1.015,"v2":0.28}]}, "mark": {"type": "rect", "color": "#7893b0"}, "encoding": {"x2": {"field": "date2"}, "y2": {"field": "v2"}}},
      {"data": {"name": "navgrid"}, "mark": {"type": "rule", "color": "#a9bccf", "strokeWidth": 1}, "encoding": {"y2": {"field": "v2"}}},
      {"data": {"name": "nav"}, "mark": {"type": "line", "color": "#ffffff", "strokeWidth": 1}},
      {"data": {"name": "navgrid"}, "mark": {"type": "text", "align": "left", "baseline": "middle", "dx": 3, "fontSize": 12, "color": "#e4ebf3"}, "encoding": {"y": {"datum": 0.925}, "text": {"field": "label"}}},
      {"data": {"values": [{"date":"2006-11-19","v":0.925,"label":"2006"}]}, "mark": {"type": "text", "align": "left", "baseline": "middle", "dx": 1, "fontSize": 12, "color": "#e4ebf3"}, "encoding": {"text": {"field": "label"}}},
      {"data": {"values": [{"date":"2006-11-18","v":1.255,"label":"rcd Div rhs -  RCD/RHS:Formula Codes - Daily - USD"}]}, "mark": {"type": "text", "align": "left", "baseline": "middle", "fontSize": 12, "color": "#333333"}, "encoding": {"text": {"field": "label"}}},
      {"data": {"values": [{"date":"2022-04-05","v":1.18}]}, "mark": {"type": "square", "size": 380, "color": "#0d4a85", "opacity": 1, "cornerRadius": 4}},
      {"data": {"values": [{"date":"2022-04-08","v":1.17}]}, "mark": {"type": "point", "shape": "circle", "size": 110, "filled": false, "stroke": "#ffffff", "strokeWidth": 3, "opacity": 1}},
      {"data": {"values": [{"date":"2022-05-12","v":1.18,"label":"Optuma"}]}, "mark": {"type": "text", "align": "left", "baseline": "middle", "fontSize": 16, "fontWeight": "bold", "color": "#0d4a85"}, "encoding": {"text": {"field": "label"}}}
    ]
  },
  {
    "width": 1281, "height": 533,
    "encoding": {
      "x": {"field": "date", "type": "temporal", "scale": {"domain": [{"year":2020,"month":6,"date":20},{"year":2022,"month":12,"date":24}]}, "axis": null},
      "y": {"field": "v", "type": "quantitative", "scale": {"type": "log", "domain": [0.611, 1.0066], "nice": false},
            "axis": {"orient": "right", "title": null, "values": [1.0,0.98,0.96,0.94,0.92,0.91,0.90,0.89,0.88,0.87,0.86,0.85,0.84,0.83,0.82,0.81,0.80,0.79,0.78,0.77,0.76,0.75,0.74,0.73,0.71,0.70,0.69,0.68,0.67,0.66,0.65,0.64,0.63,0.62], "format": ".5f", "tickSize": 6, "labelPadding": 2}}
    },
    "layer": [
      {"data": {"values": [{"date":"2021-09-29","v":0.785,"label":"RCD/RHS"}]}, "mark": {"type": "text", "align": "center", "baseline": "middle", "fontSize": 74, "fontWeight": "bold", "color": "#d9d9d9"}, "encoding": {"text": {"field": "label"}}},
      {"data": {"name": "ma_blue"}, "mark": {"type": "line", "color": "#30309a", "strokeWidth": 1.2}},
      {"data": {"name": "ma_red"}, "mark": {"type": "line", "color": "#ff2020", "strokeWidth": 1.1}},
      {"data": {"name": "price"}, "mark": {"type": "line", "color": "#111111", "strokeWidth": 1.1}},
      {"data": {"values": [{"date":"2021-11-23","v":1.0},{"date":"2022-09-29","v":0.6401}]}, "mark": {"type": "line", "color": "#1a8a1a", "strokeWidth": 2, "strokeDash": [6, 4]}},
      {"data": {"values": [{"date":"2022-01-21","v":0.732},{"date":"2022-11-14","v":0.7293}]}, "mark": {"type": "line", "color": "#1a8a1a", "strokeWidth": 2, "strokeDash": [5, 3]}},
      {"data": {"values": [{"date":"2020-06-24T18:00:00","date2":"2020-09-08","v":0.739,"v2":0.6596}]}, "mark": {"type": "rect", "color": "#ffffff"}, "encoding": {"x2": {"field": "date2"}, "y2": {"field": "v2"}}},
      {"data": {"values": [{"date":"2020-06-21T12:00:00","date2":"2020-06-24T18:00:00","v":0.7325,"v2":0.656},{"date":"2020-06-21T12:00:00","date2":"2020-09-09","v":0.6597,"v2":0.656}]}, "mark": {"type": "rect", "color": "#000000"}, "encoding": {"x2": {"field": "date2"}, "y2": {"field": "v2"}}},
      {"data": {"values": [{"date":"2020-06-25T16:00:00","date2":"2020-09-02","v":0.7103,"v2":0.6939}]}, "mark": {"type": "rect", "color": "#124c9c"}, "encoding": {"x2": {"field": "date2"}, "y2": {"field": "v2"}}},
      {"data": {"values": [{"date":"2020-06-25T16:00:00","date2":"2020-08-11","v":0.6861,"v2":0.6708}]}, "mark": {"type": "rect", "color": "#cc2128"}, "encoding": {"x2": {"field": "date2"}, "y2": {"field": "v2"}}},
      {"data": {"values": [{"date":"2020-06-27","v":0.7019,"label":"BEAT THE"},{"date":"2020-06-27","v":0.6784,"label":"BENCH"}]}, "mark": {"type": "text", "align": "left", "baseline": "middle", "fontSize": 16.5, "fontWeight": "bold", "color": "#ffffff"}, "encoding": {"text": {"field": "label"}}},
      {"data": {"values": [{"date":"2022-12-29","date2":"2023-01-30","v":0.7204,"v2":0.7117}]}, "mark": {"type": "rect", "color": "#ff0000"}, "encoding": {"x2": {"field": "date2"}, "y2": {"field": "v2"}}},
      {"data": {"values": [{"date":"2023-01-14","v":0.7162,"label":"0.71663"}]}, "mark": {"type": "text", "align": "center", "baseline": "middle", "fontSize": 11, "color": "#000000"}, "encoding": {"text": {"field": "label"}}}
    ]
  },
  {
    "width": 1281, "height": 136,
    "encoding": {
      "x": {"field": "date", "type": "temporal", "scale": {"domain": [{"year":2020,"month":6,"date":20},{"year":2022,"month":12,"date":24}]}, "axis": null},
      "y": {"field": "v", "type": "quantitative", "scale": {"domain": [-3, 115.2], "nice": false, "zero": false},
            "axis": {"orient": "right", "title": null, "values": [100, 80, 70, 50, 40, 30, 10, 0], "format": ".2f", "tickSize": 6, "labelPadding": 2}}
    },
    "layer": [
      {"data": {"values": [{"date":"2020-06-20","v":70},{"date":"2022-12-24","v":70}]}, "mark": {"type": "line", "color": "#101080", "strokeWidth": 1.2}},
      {"data": {"values": [{"date":"2020-06-20","v":30},{"date":"2022-12-24","v":30}]}, "mark": {"type": "line", "color": "#108a10", "strokeWidth": 1.2}},
      {"data": {"name": "rsi"}, "mark": {"type": "line", "color": "#20208c", "strokeWidth": 1}},
      {"data": {"values": [{"date":"2020-06-24","v":104.8,"label":"14 Period RSI"}]}, "mark": {"type": "text", "align": "left", "baseline": "middle", "fontSize": 11, "color": "#333333"}, "encoding": {"text": {"field": "label"}}}
    ]
  },
  {
    "width": 1281, "height": 126,
    "encoding": {
      "x": {"field": "date", "type": "temporal", "scale": {"domain": [{"year":2020,"month":6,"date":20},{"year":2022,"month":12,"date":24}]},
            "axis": {"values": [{"year":2020,"month":7,"date":1},{"year":2020,"month":9,"date":1},{"year":2020,"month":11,"date":1},{"year":2021,"month":1,"date":1},{"year":2021,"month":3,"date":1},{"year":2021,"month":5,"date":1},{"year":2021,"month":7,"date":1},{"year":2021,"month":9,"date":1},{"year":2021,"month":11,"date":1},{"year":2022,"month":1,"date":1},{"year":2022,"month":3,"date":1},{"year":2022,"month":5,"date":1},{"year":2022,"month":7,"date":1},{"year":2022,"month":9,"date":1},{"year":2022,"month":11,"date":1}],
                     "labelExpr": "month(datum.value) == 0 ? timeFormat(datum.value, '%Y') : timeFormat(datum.value, '%b')",
                     "tickSize": 18, "tickColor": "#d0d0d0", "labelAlign": "left", "labelOffset": 4, "labelPadding": -14, "labelBaseline": "top", "labelColor": "#333333",
                     "title": "17th Sep 2022", "titleFontSize": 11, "titleFontWeight": "normal", "titleColor": "#333333", "titleX": 675, "titleY": 32, "titleBaseline": "middle", "titleAlign": "center"}},
      "y": {"field": "v", "type": "quantitative", "scale": {"domain": [-0.02676, 0.02618], "nice": false, "zero": false},
            "axis": {"orient": "right", "title": null, "values": [0.02, 0.01, 0, -0.01, -0.02], "labelExpr": "replace(format(datum.value, '.5f'), '\u2212', '-')", "tickSize": 6, "labelPadding": 2}}
    },
    "layer": [
      {"data": {"name": "hist"}, "mark": {"type": "rule", "color": "#1414ff", "strokeWidth": 2.6}, "encoding": {"y2": {"datum": 0}}},
      {"data": {"values": [{"date":"2020-06-20","v":0},{"date":"2022-12-24","v":0}]}, "mark": {"type": "line", "color": "#1010ff", "strokeWidth": 1.5}},
      {"data": {"name": "signal"}, "mark": {"type": "line", "color": "#228b22", "strokeWidth": 1.2}},
      {"data": {"name": "macd"}, "mark": {"type": "line", "color": "#20208c", "strokeWidth": 1.2}},
      {"data": {"values": [{"date":"2020-06-24","v":0.0215,"label":"12 / 26 / 9 MACD-C"}]}, "mark": {"type": "text", "align": "left", "baseline": "middle", "fontSize": 11, "color": "#333333"}, "encoding": {"text": {"field": "label"}}}
    ]
  }
]
}
